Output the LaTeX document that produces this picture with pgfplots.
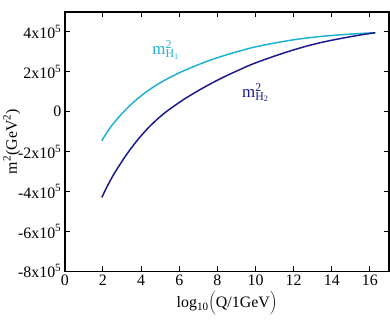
\documentclass[border=0pt]{standalone}
\usepackage{pgfplots}
\pgfplotsset{compat=1.18}
\usepackage{fontspec}
\setmainfont{Liberation Serif}
\definecolor{hone}{RGB}{30,178,208}
\definecolor{htwo}{RGB}{26,26,140}
\newcommand{\ex}{x10\textsuperscript{5}}
\begin{document}
\begin{tikzpicture}
\begin{axis}[
  name=ax,
  scale only axis,
  width=325bp, height=260bp,
  xmin=0, xmax=17, ymin=-8e5, ymax=5e5,
  xtick={0,2,...,16},
  ytick={-8e5,-6e5,-4e5,-2e5,0,2e5,4e5},
  yticklabels={-8\ex,-6\ex,-4\ex,-2\ex,0,2\ex,4\ex},
  scaled y ticks=false,
  tick align=inside,
  axis line style={line width=1.4pt},
  major tick length=5bp,
  tick style={line width=1pt, black},
  font=\fontsize{16}{18}\selectfont,
  /pgf/number format/assume math mode=true,
  xlabel={log\textsubscript{10}$\biggl($Q/1GeV$\biggr)$},
  ylabel={m\textsuperscript{2}(GeV\textsuperscript{2})},
  xlabel style={yshift=1bp},
  ylabel style={yshift=-9bp},
]
\addplot[hone, line width=1.5pt, smooth, tension=0.6] coordinates {
 (1.94,-1.45e5) (2.50,-0.65e5) (3.37,0.27e5) (4.24,0.97e5) (5.11,1.51e5)
 (5.98,1.94e5) (6.60,2.20e5) (7.47,2.53e5) (8.34,2.81e5) (9.20,3.05e5)
 (10.09,3.27e5) (11.83,3.58e5) (13.40,3.77e5) (15.15,3.90e5) (16.28,3.96e5)};
\addplot[htwo, line width=1.5pt, smooth, tension=0.6] coordinates {
 (1.94,-4.30e5) (2.50,-3.25e5) (3.37,-1.97e5) (4.24,-0.95e5) (5.11,-0.16e5)
 (5.98,0.45e5) (6.60,0.83e5) (7.47,1.31e5) (8.34,1.74e5) (9.20,2.12e5)
 (10.09,2.48e5) (11.83,3.05e5) (13.40,3.46e5) (15.15,3.79e5) (16.28,3.96e5)};
\node[hone, font=\fontsize{17}{19}\selectfont] at (axis cs:5.3,3.1e5)
  {m\rlap{\textsuperscript{2}}\textsubscript{H\textsubscript{1}}};
\node[htwo, font=\fontsize{17}{19}\selectfont] at (axis cs:10.0,0.95e5)
  {m\rlap{\textsuperscript{2}}\textsubscript{H\textsubscript{2}}};
\end{axis}
% page margins around the axis box as in the reference
\path (ax.north west) ++(-64bp,12bp);
\path (ax.south east) ++(1bp,-57bp);
\end{tikzpicture}
\end{document}
